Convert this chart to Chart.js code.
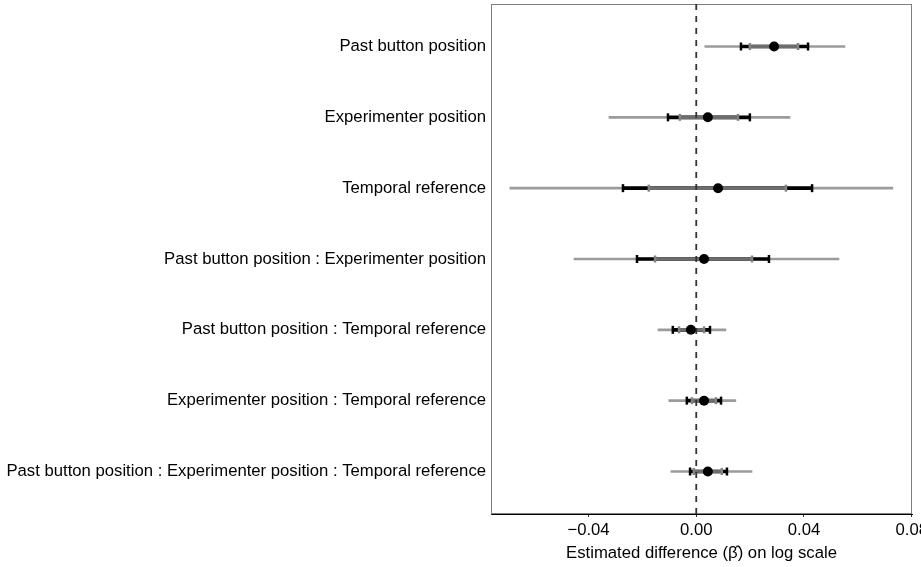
<!DOCTYPE html>
<html>
<head>
<meta charset="utf-8">
<script src="https://cdn.jsdelivr.net/npm/chart.js@4/dist/chart.umd.min.js"></script>
<style>
html,body{margin:0;padding:0;background:#fff;}
#wrap{width:921px;height:567px;position:relative;}
</style>
</head>
<body>
<div id="wrap"><canvas id="c" width="921" height="567"></canvas></div>
<script>
// ---- data ----
const categories = [
  "Past button position",
  "Experimenter position",
  "Temporal reference",
  "Past button position : Experimenter position",
  "Past button position : Temporal reference",
  "Experimenter position : Temporal reference",
  "Past button position : Experimenter position : Temporal reference"
];
const estimate  = [0.0289, 0.0043, 0.0081, 0.0029, -0.0020, 0.0029, 0.0043];
const outerLow  = [0.0032, -0.0324, -0.0692, -0.0454, -0.0142, -0.0102, -0.0094];
const outerHigh = [0.0552, 0.0348, 0.0730, 0.0530, 0.0110, 0.0147, 0.0207];
const midLow    = [0.0166, -0.0105, -0.0272, -0.0220, -0.0087, -0.0035, -0.0023];
const midHigh   = [0.0415, 0.0199, 0.0430, 0.0270, 0.0051, 0.0092, 0.0114];
const innerLow  = [0.0199, -0.0061, -0.0176, -0.0153, -0.0064, -0.0016, -0.0009];
const innerHigh = [0.0378, 0.0155, 0.0333, 0.0207, 0.0029, 0.0073, 0.0095];
const refValue  = 0;
const xTicks = [-0.04, 0, 0.04, 0.08];
const xTickLabels = ["\u22120.04", "0.00", "0.04", "0.08"];
const xMin = -0.0762, xMax = 0.0801;
const yMin = 0.4, yMax = categories.length + 0.6;
const xTitle = "Estimated difference (\u03B2\u0302) on log scale";

// ---- helpers ----
const rowY = categories.map((_, i) => i + 1);
const span = (lo, hi) => categories.map((_, i) => ({ y: rowY[i], x: [lo[i], hi[i]] }));
const pts = (vals) => categories.map((_, i) => ({ x: vals[i], y: rowY[i] }));
const FONT = "'Liberation Sans', Arial, Helvetica, sans-serif";

const framePlugin = {
  id: 'frame',
  beforeDatasetsDraw(chart) {
    const { ctx, chartArea: a } = chart;
    ctx.save();
    ctx.strokeStyle = '#7f7f7f';
    ctx.lineWidth = 1;
    ctx.strokeRect(Math.round(a.left) + 0.5, Math.round(a.top) + 0.5,
                   Math.round(a.right - a.left) - 1, Math.round(a.bottom - a.top) - 1);
    ctx.restore();
  }
};

new Chart(document.getElementById('c'), {
  type: 'scatter',
  data: {
    datasets: [
      { type: 'bar', indexAxis: 'y', data: span(outerLow, outerHigh), backgroundColor: '#9b9b9b',
        barThickness: 2, grouped: false, order: 6 },
      { type: 'bar', indexAxis: 'y', data: span(midLow, midHigh), backgroundColor: '#000',
        barThickness: 3, grouped: false, order: 5 },
      { type: 'scatter', data: pts(midLow).concat(pts(midHigh)), pointStyle: 'line', rotation: 90,
        pointRadius: 4, borderWidth: 2.5, borderColor: '#000', order: 4 },
      { type: 'bar', indexAxis: 'y', data: span(innerLow, innerHigh), backgroundColor: '#6d6d6d',
        barThickness: 3, grouped: false, order: 3 },
      { type: 'scatter', data: pts(innerLow).concat(pts(innerHigh)), pointStyle: 'line', rotation: 90,
        pointRadius: 3.5, borderWidth: 2.5, borderColor: '#838383', order: 2 },
      { type: 'line', data: [{ x: refValue, y: yMin }, { x: refValue, y: yMax }], borderColor: '#333',
        borderWidth: 1.8, borderDash: [6, 6], pointRadius: 0, fill: false, order: 1 },
      { type: 'scatter', data: pts(estimate), pointRadius: 5, backgroundColor: '#000',
        borderWidth: 0, order: 0 }
    ]
  },
  options: {
    responsive: false,
    animation: false,
    devicePixelRatio: 1,
    events: [],
    layout: { autoPadding: false, padding: { left: 0, right: 9, top: 4, bottom: 0 } },
    plugins: { legend: { display: false }, tooltip: { enabled: false } },
    scales: {
      x: {
        type: 'linear', min: xMin, max: xMax, offset: false,
        afterBuildTicks: (s) => { s.ticks = xTicks.map(v => ({ value: v })); },
        afterFit: (s) => { s.height = 53; s.paddingLeft = 0; s.paddingRight = 0; },
        ticks: {
          callback: (v) => xTickLabels[xTicks.indexOf(v)],
          color: '#000', font: { family: FONT, size: 16.7 }, padding: 3,
          maxRotation: 0, autoSkip: false
        },
        grid: { display: true, offset: false, drawOnChartArea: false, drawTicks: true, tickLength: 3, color: '#333' },
        border: { display: true, color: '#000', width: 1 },
        title: { display: true, text: xTitle, color: '#000', font: { family: FONT, size: 16.7 },
                 padding: { top: 0, bottom: 4 } }
      },
      y: {
        type: 'linear', reverse: true, min: yMin, max: yMax, offset: false,
        afterBuildTicks: (s) => { s.ticks = rowY.map(v => ({ value: v })); },
        afterFit: (s) => { s.width = 491; s.paddingTop = 0; s.paddingBottom = 0; },
        ticks: {
          callback: (v) => categories[v - 1],
          color: '#000', font: { family: FONT, size: 16.7 }, padding: 5, autoSkip: false
        },
        grid: { display: false, offset: false, drawTicks: false },
        border: { display: true, color: '#333', width: 1 }
      }
    }
  },
  plugins: [framePlugin]
});
</script>
</body>
</html>
